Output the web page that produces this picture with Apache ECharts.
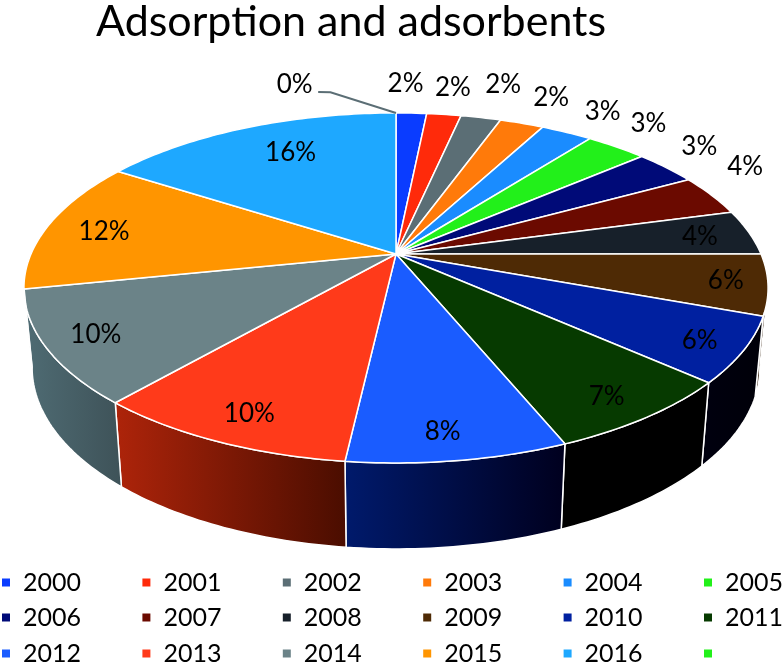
<!DOCTYPE html>
<html><head><meta charset="utf-8">
<style>html,body{margin:0;padding:0;background:#fff}#c{width:782px;height:664px}</style>
<script src="https://cdn.jsdelivr.net/npm/echarts@6/dist/echarts.min.js"></script>
</head><body><div id="c"></div>
<script>
const categories = ['2000','2001','2002','2003','2004','2005','2006','2007','2008','2009','2010','2011','2012','2013','2014','2015','2016',' '];
const sliceShares = [1.6,1.8,2.1,2.3,2.7,3.2,3.3,3.8,4.2,5.6,6.0,7.2,8.0,9.6,10.4,12.3,15.9,0];
const topColors = ['#0A3CFF','#FF2A0A','#5B6E75','#FF7A0A','#1A8CFF','#22F01A','#000A78','#6B0A00','#17202A','#4E2A05','#0020A0','#063A00','#1A5CFF','#FF3A1A','#6B8388','#FF9500','#1EA8FF','#22F01A'];
const wallLeft = ['#000','#000','#000','#000','#000','#000','#000','#000','#000','#2a1503','#00000F','#000000','#001A6C','#AE240A','#4F6C74','#000','#000','#000'];
const wallRight = ['#000','#000','#000','#000','#000','#000','#000','#000','#000','#2a1503','#000008','#000000','#00001E','#4A0D00','#3E5258','#000','#000','#000'];
const labelRadius = [1.256,1.234,1.298,1.25,1.22,1.225,1.196,1.208,0.856,0.89,0.889,0.88,0.88,0.87,0.871,0.833,0.756,1.30];
const labelTurn = [-1.4,0,0.3,0.6,0.8,-1.9,-2.8,-6.4,0.5,0,0.7,1,1,-0.8,0,-1,3,-15.4];
const leaderPolar = [[1,0],[1.2,-10.6],[1.211,-12.5]];

const CX=396, CY=254, B=365, A=168.4, K=0.194, WALL_SCALE=0.978;
const total = sliceShares.reduce((a,b)=>a+b,0);
const TEXT_FONT = '26px Lato';
function project(r,deg){
  const t=deg*Math.PI/180, u=r*Math.sin(t), v=r*Math.cos(t), d=1+K*v;
  return [CX+B*u/d, CY-A*v/d];
}
function lower(deg){
  const p=project(1,deg), v=Math.cos(deg*Math.PI/180);
  return [CX+(p[0]-CX)*WALL_SCALE, p[1]+78-8*v];
}
function arc(a,b,fn){const pts=[],n=Math.max(2,Math.ceil(Math.abs(b-a)));for(let i=0;i<=n;i++)pts.push(fn(a+(b-a)*i/n));return pts;}

function renderSlice(params,api){
  const i=params.seriesIndex, value=api.value(0);
  let before=0; for(let j=0;j<i;j++) before+=sliceShares[j];
  const a=before/total*360, b=(before+value)/total*360, mid=(a+b)/2;
  const children=[];
  const wa=Math.max(a,101), wb=Math.min(b,259);
  if(wb>wa){
    const topArc=arc(wa,wb,d=>project(1,d)), botArc=arc(wa,wb,lower).reverse();
    children.push({type:'polygon',shape:{points:topArc.concat(botArc)},
      style:{fill:{type:'linear',x:0,y:0,x2:1,y2:0,colorStops:[{offset:0,color:wallLeft[i]},{offset:1,color:wallRight[i]}]},stroke:'#fff',lineWidth:1.5}});
  }
  if(b>a){
    children.push({type:'polygon',shape:{points:[[CX,CY]].concat(arc(a,b,d=>project(1,d)))},
      style:{fill:topColors[i],stroke:'#fff',lineWidth:1.5,lineJoin:'round'}});
  } else {
    children.push({type:'polyline',shape:{points:leaderPolar.map(p=>project(p[0],p[1]))},
      style:{fill:'none',stroke:'#5B6E75',lineWidth:2}});
  }
  const lp=project(labelRadius[i],mid+labelTurn[i]);
  children.push({type:'text',z2:50,style:{text:Math.round(value/total*100)+'%',x:lp[0],y:lp[1],align:'center',verticalAlign:'middle',fill:'#000',font:TEXT_FONT}});
  return {type:'group',children};
}

const series=categories.map((name,i)=>({
  type:'custom',name,coordinateSystem:'none',renderItem:renderSlice,
  itemStyle:{color:topColors[i]},
  data:[[sliceShares[i]]],silent:true,animation:false
}));
const legendRow=(row,top)=>({
  left:2,top,width:800,padding:0,data:row,orient:'horizontal',icon:'rect',itemWidth:8,itemHeight:8,itemGap:61.4,selectedMode:false,
  textStyle:{fontFamily:'Lato',fontSize:25,color:'#000',padding:[0,0,0,8],width:58}
});
const chart=echarts.init(document.getElementById('c'),null,{renderer:'canvas'});
chart.setOption({
  backgroundColor:'#fff',animation:false,
  title:{text:'Adsorption and adsorbents',left:91,top:-4,textStyle:{fontFamily:'Lato',fontWeight:'normal',fontSize:43,color:'#000'}},
  legend:[legendRow(categories.slice(0,6),570),legendRow(categories.slice(6,12),605),legendRow(categories.slice(12,18),641)],
  series
});
</script></body></html>
